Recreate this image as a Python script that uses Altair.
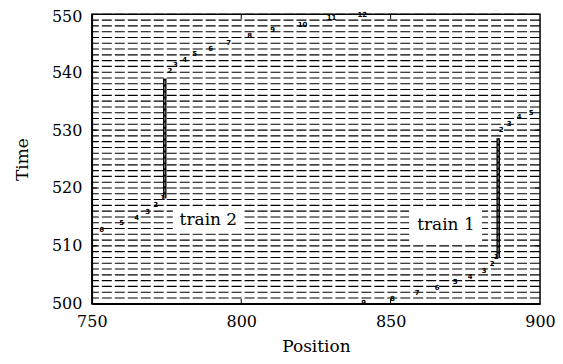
import altair as alt
import pandas as pd

# ---- data ----
grid_times = list(range(500, 551))

t2_low_x = [753.3, 760.0, 765.0, 768.7, 771.4, 773.7]
t2_low_t = [512.8, 513.9, 514.9, 515.9, 517.0, 518.2]
t2_low_lab = ["6", "5", "4", "3", "2", "1"]

t2_up_x = [776.1, 778.0, 781.1, 784.4, 789.8, 795.8, 802.8, 810.5, 820.5, 830.2, 840.5]
t2_up_t = [540.2, 541.3, 542.1, 543.2, 544.0, 545.0, 546.2, 547.3, 548.1, 549.3, 549.8]
t2_up_lab = ["2", "3", "4", "5", "6", "7", "8", "9", "10", "11", "12"]

t1_low_x = [841.0, 850.6, 858.9, 865.6, 871.6, 876.6, 881.3, 884.0, 885.3]
t1_low_t = [500.1, 500.9, 501.9, 502.7, 503.8, 504.6, 505.7, 506.8, 508.0]
t1_low_lab = ["9", "8", "7", "6", "5", "4", "3", "2", "1"]

t1_up_x = [887.0, 889.7, 893.0, 897.0]
t1_up_t = [530.0, 531.0, 532.2, 532.9]
t1_up_lab = ["2", "3", "4", "5"]

dwell_x = [774.4, 886.0]
dwell_t0 = [518.2, 508.0]
dwell_t1 = [538.9, 528.6]

label_names = ["train 2", "train 1"]
label_x = [789.0, 868.5]
label_t = [514.5, 513.6]
box_x0 = [777.1, 856.2]
box_x1 = [800.5, 880.6]
box_t0 = [512.2, 510.8]
box_t1 = [516.8, 516.6]

x_ticks = [800, 850]
y_ticks = [510, 520, 530, 540]

FONT = "DejaVu Serif"
W, H = 449, 290

xs = alt.Scale(domain=[750, 900], nice=False, zero=False)
ys = alt.Scale(domain=[500, 550], nice=False, zero=False)

grid_df = pd.DataFrame({"t": grid_times})
grid = alt.Chart(grid_df).mark_rule(
    color="black", strokeWidth=1.1, strokeDash=[10, 3]
).encode(
    y=alt.Y("t:Q", scale=ys, axis=alt.Axis(
        title="Time", values=[500, 510, 520, 530, 540, 550], ticks=False,
        grid=False, labelFlush=False, labelFont=FONT, labelFontSize=16,
        labelOffset={"condition": {"test": "datum.value == 550", "value": 2}, "value": 0},
        labelColor="black", titleFont=FONT, titleFontSize=17,
        titleFontWeight="normal", titleColor="black",
        labelPadding=10, titlePadding=20, domainColor="black", domainWidth=1.5)),
)

box_df = pd.DataFrame({"x0": box_x0, "x1": box_x1, "t0": box_t0, "t1": box_t1})
boxes = alt.Chart(box_df).mark_rect(color="white").encode(
    x=alt.X("x0:Q", scale=xs), x2="x1:Q", y=alt.Y("t0:Q", scale=ys), y2="t1:Q"
)

lab_df = pd.DataFrame({"name": label_names, "x": label_x, "t": label_t})
labels = alt.Chart(lab_df).mark_text(font=FONT, fontSize=17, color="black").encode(
    x=alt.X("x:Q", scale=xs), y=alt.Y("t:Q", scale=ys), text="name:N"
)

pts = pd.DataFrame({
    "x": t2_low_x + t2_up_x + t1_low_x + t1_up_x,
    "t": t2_low_t + t2_up_t + t1_low_t + t1_up_t,
    "lab": t2_low_lab + t2_up_lab + t1_low_lab + t1_up_lab,
})
digits = alt.Chart(pts).mark_text(
    font="DejaVu Sans", fontSize=7, fontWeight="bold", color="black"
).encode(x=alt.X("x:Q", scale=xs), y=alt.Y("t:Q", scale=ys), text="lab:N")

dw_df = pd.DataFrame({"x": dwell_x, "t0": dwell_t0, "t1": dwell_t1})
dwell_outer = alt.Chart(dw_df).mark_rule(color="black", strokeWidth=3.5).encode(
    x=alt.X("x:Q", scale=xs), y=alt.Y("t0:Q", scale=ys), y2="t1:Q"
)
dwell_inner = alt.Chart(dw_df).mark_rule(
    color="#9a9a9a", strokeWidth=1, strokeDash=[4, 2]
).encode(x=alt.X("x:Q", scale=xs), y=alt.Y("t0:Q", scale=ys), y2="t1:Q")

xt_df = pd.DataFrame({"v": x_ticks})
xt_bot = alt.Chart(xt_df).mark_rule(color="black", strokeWidth=1).encode(
    x=alt.X("v:Q", scale=xs, axis=alt.Axis(
        title="Position", values=[750, 800, 850, 900], ticks=False, grid=False,
        labelFlush=False, labelFont=FONT, labelFontSize=16, labelColor="black",
        titleFont=FONT, titleFontSize=17, titleFontWeight="normal", titleColor="black",
        labelPadding=10, titlePadding=9, domainColor="black", domainWidth=1.5)),
    y=alt.value(H), y2=alt.value(H - 5),
)
xt_top = alt.Chart(xt_df).mark_rule(color="black", strokeWidth=1).encode(
    x=alt.X("v:Q", scale=xs), y=alt.value(0), y2=alt.value(5)
)
yt_df = pd.DataFrame({"v": y_ticks})
yt_left = alt.Chart(yt_df).mark_rule(color="black", strokeWidth=1).encode(
    y=alt.Y("v:Q", scale=ys), x=alt.value(0), x2=alt.value(5)
)
yt_right = alt.Chart(yt_df).mark_rule(color="black", strokeWidth=1).encode(
    y=alt.Y("v:Q", scale=ys), x=alt.value(W), x2=alt.value(W - 5)
)

chart = alt.layer(
    grid, boxes, labels, digits, dwell_outer, dwell_inner,
    xt_bot, xt_top, yt_left, yt_right
).properties(
    width=W, height=H,
    autosize=alt.AutoSizeParams(type="none"),
    padding={"left": 84, "top": 6, "right": 15, "bottom": 52},
).configure_view(
    stroke="black", strokeWidth=1.5
)

chart.save("out.html", embed_options={"renderer": "svg", "actions": False})
